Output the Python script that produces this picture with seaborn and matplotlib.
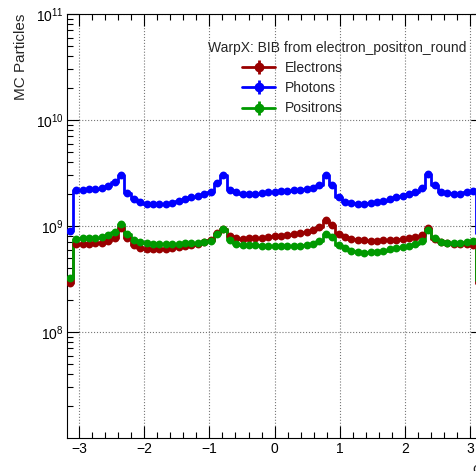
import numpy as np
import matplotlib
matplotlib.use("Agg")
import matplotlib.pyplot as plt
from matplotlib.ticker import MultipleLocator, LogLocator, NullFormatter
import seaborn as sns

# 65 phi bins, centred from -pi to pi (half-bins at both ends)
n_bins = 65
phi = np.linspace(-np.pi, np.pi, n_bins)

# MC particle counts per bin, in units of 1e9
electrons = [
    0.29, 0.676, 0.676, 0.68, 0.687, 0.696, 0.722, 0.765, 0.964, 0.776,
    0.662, 0.624, 0.607, 0.603, 0.603, 0.607, 0.616, 0.63, 0.648, 0.662,
    0.676, 0.70, 0.74, 0.865, 0.943, 0.805, 0.77, 0.76, 0.765, 0.77,
    0.775, 0.787, 0.80, 0.81, 0.822, 0.84, 0.858, 0.884, 0.91, 0.978,
    1.13, 1.03, 0.85, 0.782, 0.754, 0.738, 0.733, 0.73, 0.73, 0.733,
    0.738, 0.743, 0.754, 0.765, 0.782, 0.822, 0.964, 0.754, 0.70, 0.687,
    0.68, 0.68, 0.676, 0.662, 0.29,
]
photons = [
    0.90, 2.19, 2.19, 2.22, 2.23, 2.30, 2.40, 2.58, 3.03, 2.03,
    1.79, 1.67, 1.62, 1.60, 1.60, 1.62, 1.66, 1.72, 1.80, 1.87,
    1.92, 1.99, 2.11, 2.55, 3.00, 2.20, 2.08, 2.02, 2.00, 2.02,
    2.05, 2.08, 2.10, 2.12, 2.15, 2.17, 2.19, 2.23, 2.28, 2.45,
    3.05, 2.45, 1.87, 1.70, 1.64, 1.60, 1.60, 1.64, 1.67, 1.73,
    1.81, 1.88, 1.93, 1.99, 2.08, 2.27, 3.07, 2.44, 2.11, 2.03,
    2.00, 2.00, 2.08, 2.12, 0.86,
]
positrons = [
    0.32, 0.754, 0.765, 0.77, 0.776, 0.793, 0.822, 0.884, 1.044, 0.84,
    0.738, 0.70, 0.687, 0.676, 0.67, 0.67, 0.676, 0.68, 0.687, 0.69,
    0.696, 0.70, 0.72, 0.846, 0.943, 0.733, 0.68, 0.666, 0.658, 0.658,
    0.655, 0.648, 0.648, 0.643, 0.643, 0.648, 0.655, 0.662, 0.68, 0.717,
    0.846, 0.787, 0.662, 0.616, 0.581, 0.565, 0.56, 0.565, 0.573, 0.585,
    0.603, 0.616, 0.63, 0.643, 0.672, 0.722, 0.917, 0.765, 0.70, 0.687,
    0.687, 0.69, 0.70, 0.72, 0.31,
]

series = [
    ("Electrons", electrons, "#990000"),
    ("Photons", photons, "#0000ff"),
    ("Positrons", positrons, "#009900"),
]

sns.set_theme(style="ticks")
plt.rcParams["font.family"] = ["Liberation Sans", "DejaVu Sans"]
plt.rcParams["mathtext.default"] = "regular"

fig = plt.figure(figsize=(4.77, 4.71), dpi=100)
# the right edge of the frame runs just past the canvas, as in the original
ax = fig.add_axes([66.6 / 477, 1 - 438 / 471, 416 / 477, 424 / 471])

handles = []
for name, vals, col in series:
    y = np.array(vals) * 1e9
    sns.lineplot(x=phi, y=y, drawstyle="steps-mid", color=col, lw=2,
                 estimator=None, legend=False, ax=ax)
    sns.scatterplot(x=phi, y=y, color=col, s=32, linewidth=0,
                    legend=False, ax=ax, zorder=3)
    h = ax.errorbar([], [], yerr=[], fmt="o-", color=col, lw=2, ms=6,
                    label=name)
    handles.append(h)

ax.set_yscale("log")
ax.set_xlim(-np.pi - np.pi / 64, np.pi + np.pi / 64)
ax.set_ylim(1.001e7, 1e11)

ax.xaxis.set_major_locator(MultipleLocator(1))
ax.xaxis.set_minor_locator(MultipleLocator(0.2))
ax.yaxis.set_major_locator(LogLocator(base=10, numticks=10))
ax.yaxis.set_minor_locator(LogLocator(base=10, subs=np.arange(2, 10), numticks=10))
ax.yaxis.set_minor_formatter(NullFormatter())

ax.tick_params(which="both", direction="in", top=True, right=True,
               labelsize=10, colors="black")
ax.tick_params(which="major", length=8.5, width=0.8)
ax.tick_params(which="minor", length=4.3, width=0.8)
ax.tick_params(axis="x", pad=3)
ax.tick_params(axis="y", pad=2)

ax.grid(True, which="major", ls=":", color="#777777", lw=0.8)
for sp in ax.spines.values():
    sp.set_color("black")
    sp.set_linewidth(0.8)

ax.set_ylabel("MC Particles", fontsize=11, loc="top")
ax.yaxis.set_label_coords(-0.093, 1.0)
ax.set_xlabel("φ", fontsize=11, loc="right")

fig.text(208 / 477, 1 - 48 / 471, "WarpX: BIB from electron_positron_round",
         fontsize=10, ha="left", va="center")
fig.legend(handles=handles, loc="upper left",
           bbox_to_anchor=(242 / 477, 1 - 61 / 471), frameon=False,
           fontsize=10, borderpad=0, borderaxespad=0, handlelength=2.4,
           handletextpad=0.7, labelspacing=0.45)

fig.savefig("out.png", dpi=100)
